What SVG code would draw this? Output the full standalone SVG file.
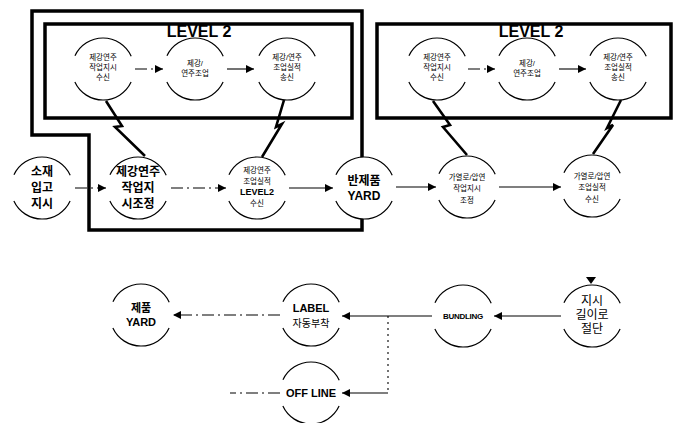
<svg xmlns="http://www.w3.org/2000/svg" width="676" height="423" viewBox="0 0 676 423">
<style>
text{font-family:"Liberation Sans","Noto Sans CJK KR",sans-serif;text-anchor:middle;fill:#000}
.n{fill:#fff;stroke:#000;stroke-width:1.2;stroke-dasharray:70.3 27.1;stroke-dashoffset:-13.5}
.box{fill:none;stroke:#000;stroke-width:3.5}
.c{fill:none;stroke:#000;stroke-width:1.1}
.dash{stroke-dasharray:12 4 2 4}
.dot{stroke-dasharray:2 4}
.bolt{fill:none;stroke:#000;stroke-width:2.6;stroke-linejoin:miter}
.s{font-size:7.5px}
.m{font-size:12px;font-weight:bold}
.lv{font-size:16px;font-weight:bold}
</style>
<defs>
<marker id="a" viewBox="0 0 10 10" refX="10" refY="5" markerWidth="9" markerHeight="8" markerUnits="userSpaceOnUse" orient="auto"><path d="M0,0L10,5L0,10z" fill="#000"/></marker>
</defs>
<rect width="676" height="423" fill="#fff"/>
<g id="boundaries">
<path class="box" d="M32,11H362V230H89V135H32Z"/>
<rect class="box" x="45" y="24" width="307" height="94"/>
<rect class="box" x="377" y="24" width="294" height="94"/>
<text class="lv" x="199" y="37">LEVEL 2</text>
<text class="lv" x="531" y="37">LEVEL 2</text>
</g>
<g id="connectors">
<line class="c dash" x1="135" y1="69" x2="163" y2="69" marker-end="url(#a)"/>
<line class="c" x1="227" y1="69" x2="254" y2="69" marker-end="url(#a)"/>
<line class="c dash" x1="468" y1="69" x2="495" y2="69" marker-end="url(#a)"/>
<line class="c" x1="559" y1="69" x2="586" y2="69" marker-end="url(#a)"/>
<line class="c dash" x1="75" y1="188" x2="106" y2="188" marker-end="url(#a)"/>
<line class="c dash" x1="171" y1="188" x2="226" y2="188" marker-end="url(#a)"/>
<line class="c" x1="289" y1="188" x2="333" y2="188" marker-end="url(#a)"/>
<line class="c" x1="396" y1="187" x2="436" y2="187" marker-end="url(#a)"/>
<line class="c" x1="499" y1="187" x2="561" y2="187" marker-end="url(#a)"/>
<polyline class="bolt" points="106,101 122,126 115,127 145,156"/>
<polyline class="bolt" points="284,100 276,127 282,124 262,157"/>
<polyline class="bolt" points="433,101 450,125 443,127 467,155"/>
<polyline class="bolt" points="621,100 607,128 613,125 593,154"/>
<line class="c" x1="561" y1="316" x2="494" y2="316" marker-end="url(#a)"/>
<line class="c" x1="432" y1="316" x2="342" y2="316" stroke-width="1.5" marker-end="url(#a)"/>
<line class="c dot" x1="388" y1="316" x2="388" y2="393"/>
<line class="c" x1="388" y1="393" x2="342" y2="393" marker-end="url(#a)"/>
<line class="c dash" x1="280" y1="315" x2="173" y2="315" marker-end="url(#a)"/>
<line class="c dash" x1="280" y1="393" x2="230" y2="393"/>
<polygon points="586,277 596,277 591,284" fill="#000"/>
</g>
<g id="n1"><circle class="n" cx="103" cy="69" r="31"/><text class="s" x="103" y="60">제강연주</text><text class="s" x="103" y="70">작업지시</text><text class="s" x="103" y="80">수신</text></g>
<g id="n2"><circle class="n" cx="195" cy="69" r="31"/><text class="s" x="195" y="66">제강/</text><text class="s" x="195" y="76">연주조업</text></g>
<g id="n3"><circle class="n" cx="287" cy="69" r="31"/><text class="s" x="287" y="60">제강/연주</text><text class="s" x="287" y="70">조업실적</text><text class="s" x="287" y="80">송신</text></g>
<g id="n4"><circle class="n" cx="437" cy="69" r="31"/><text class="s" x="437" y="60">제강연주</text><text class="s" x="437" y="70">작업지시</text><text class="s" x="437" y="80">수신</text></g>
<g id="n5"><circle class="n" cx="527" cy="69" r="31"/><text class="s" x="527" y="66">제강/</text><text class="s" x="527" y="76">연주조업</text></g>
<g id="n6"><circle class="n" cx="618" cy="69" r="31"/><text class="s" x="618" y="60">제강/연주</text><text class="s" x="618" y="70">조업실적</text><text class="s" x="618" y="80">송신</text></g>
<g id="m1"><circle class="n" cx="42" cy="188" r="31"/><text class="m" x="42" y="176">소재</text><text class="m" x="42" y="192">입고</text><text class="m" x="42" y="208">지시</text></g>
<g id="m2"><circle class="n" cx="138" cy="188" r="31"/><text class="m" x="138" y="176">제강연주</text><text class="m" x="138" y="192">작업지</text><text class="m" x="138" y="208">시조정</text></g>
<g id="m3"><circle class="n" cx="257" cy="188" r="31"/><text class="s" x="257" y="173">제강연주</text><text class="s" x="257" y="184">조업실적</text><text font-size="9" font-weight="bold" x="257" y="195">LEVEL2</text><text class="s" x="257" y="206">수신</text></g>
<g id="m4"><circle class="n" cx="364" cy="188" r="31"/><text class="m" x="364" y="185">반제품</text><text class="m" x="364" y="200">YARD</text></g>
<g id="m5"><circle class="n" cx="467" cy="187" r="31"/><text class="s" x="467" y="180">가열로/압연</text><text class="s" x="467" y="191">작업지시</text><text class="s" x="467" y="203">조정</text></g>
<g id="m6"><circle class="n" cx="592" cy="186" r="31"/><text class="s" x="592" y="179">가열로/압연</text><text class="s" x="592" y="190">조업실적</text><text class="s" x="592" y="202">수신</text></g>
<g id="b1"><circle class="n" cx="141" cy="315" r="31"/><text font-size="11" font-weight="bold" x="141" y="312">제품</text><text font-size="11" font-weight="bold" x="141" y="326">YARD</text></g>
<g id="b2"><circle class="n" cx="311" cy="315" r="31"/><text font-size="11" font-weight="bold" x="311" y="312">LABEL</text><text font-size="10" x="311" y="327">자동부착</text></g>
<g id="b3"><circle class="n" cx="463" cy="316" r="31"/><text font-size="8" font-weight="bold" x="463" y="319" letter-spacing="-0.3">BUNDLING</text></g>
<g id="b4"><circle class="n" cx="592" cy="316" r="31"/><text font-size="12" x="592" y="305">지시</text><text font-size="12" x="592" y="319">길이로</text><text font-size="12" x="592" y="333">절단</text></g>
<g id="b5"><circle class="n" cx="311" cy="393" r="31"/><text font-size="11" font-weight="bold" x="311" y="397">OFF LINE</text></g>
</svg>
